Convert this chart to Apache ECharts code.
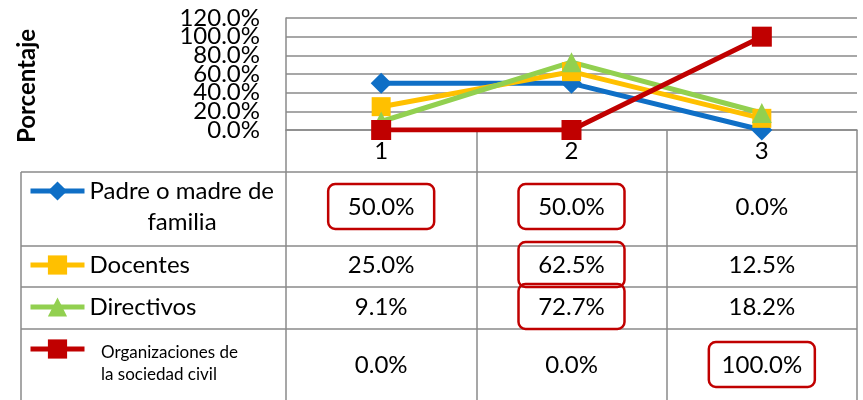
<!DOCTYPE html>
<html>
<head>
<meta charset="utf-8">
<script src="https://cdn.jsdelivr.net/npm/echarts@6/dist/echarts.min.js"></script>
<style>
  html, body { margin: 0; padding: 0; background: #fff; }
  #echarts { width: 863px; height: 400px; }
</style>
</head>
<body>
<div id="echarts"></div>
<script>
// datos
var categories = ["1", "2", "3"];
var seriesNames = ["Padre o madre de familia", "Docentes", "Directivos", "Organizaciones de la sociedad civil"];
var padre = [50.0, 50.0, 0.0];
var docentes = [25.0, 62.5, 12.5];
var directivos = [9.1, 72.7, 18.2];
var organizaciones = [0.0, 0.0, 100.0];
var yTicks = [0, 20, 40, 60, 80, 100, 120];
// celdas marcadas en rojo [columna, fila]
var marked = [[0, 0], [1, 0], [1, 1], [1, 2], [2, 3]];

var allValues = [padre, docentes, directivos, organizaciones];
var colors = ["#0F6FC6", "#FFC000", "#92D050", "#C00000"];
var symbols = ["diamond", "rect", "triangle", "rect"];
var symbolSizes = [21, 19, 20, 20];

var GRAY = "#8a8a8a";
var FONT = "Lato";
var FS = 24;
var ROW_Y = [207, 265, 307, 365];
var LEGEND_Y = [191, 265, 307, 349];

var chartDom = document.getElementById("echarts");
var myChart = echarts.init(chartDom);
var option;

function isMarked(c, r) {
  for (var i = 0; i < marked.length; i++) {
    if (marked[i][0] === c && marked[i][1] === r) return true;
  }
  return false;
}

var tableData = [];
allValues.forEach(function (vals, r) {
  vals.forEach(function (v, c) {
    tableData.push([c, r, v]);
  });
});

var lineSeries = allValues.map(function (vals, i) {
  return {
    name: seriesNames[i],
    type: "line",
    data: vals,
    symbol: symbols[i],
    symbolSize: symbolSizes[i],
    lineStyle: { color: colors[i], width: 5 },
    itemStyle: { color: colors[i] },
    emphasis: { disabled: true },
    animation: false,
  };
});

// leyendas dentro de la tabla
var legendLabels = ["Padre o madre de", "Docentes", "Directivos", ""];
var legends = seriesNames.map(function (name, i) {
  return {
    data: [name],
    left: 28,
    top: LEGEND_Y[i] - 12,
    padding: 0,
    itemWidth: 54,
    itemHeight: 24,
    selectedMode: false,
    lineStyle: { width: 5 },
    formatter: function () { return legendLabels[i]; },
    textStyle: { fontFamily: FONT, fontSize: FS, color: "#000" },
  };
});

function hline(y, x1, x2) {
  return { type: "line", shape: { x1: x1, y1: y, x2: x2, y2: y }, style: { stroke: GRAY, lineWidth: 1.5 } };
}

// las etiquetas del eje y se solapan: se reparten en dos ejes (pares / impares)
function yLabelAxis(parity, main) {
  return {
    type: "value",
    position: "left",
    min: yTicks[0],
    max: yTicks[yTicks.length - 1],
    interval: 20,
    axisLine: { show: main, lineStyle: { color: GRAY, width: 1.5 } },
    axisTick: { show: false },
    axisLabel: {
      fontFamily: FONT, fontSize: FS, color: "#000", margin: 26,
      showMinLabel: true, showMaxLabel: true, hideOverlap: false,
      formatter: function (v) {
        return (v / 20) % 2 === parity ? v.toFixed(1) + "%" : "";
      },
    },
    splitLine: { show: main, showMinLine: true, showMaxLine: true, lineStyle: { color: GRAY, width: 1.5 } },
  };
}

option = {
  animation: false,
  legend: legends,
  grid: { left: 286, right: 6, top: 18, height: 112 },
  xAxis: {
    type: "category",
    data: categories,
    boundaryGap: true,
    axisLine: { lineStyle: { color: GRAY, width: 1.5 } },
    axisTick: { show: true, length: 272, lineStyle: { color: GRAY, width: 1.5 } },
    axisLabel: { fontFamily: FONT, fontSize: FS, color: "#000", margin: 9 },
  },
  yAxis: [yLabelAxis(0, true), yLabelAxis(1, false)],
  graphic: [
    {
      type: "text", x: 27, y: 86, rotation: Math.PI / 2,
      style: { text: "Porcentaje", font: "bold 24px Lato", fill: "#000", align: "center", verticalAlign: "middle" },
    },
    hline(172, 21, 857),
    hline(246, 21, 857),
    hline(287, 21, 857),
    hline(329, 21, 857),
    { type: "line", shape: { x1: 21, y1: 172, x2: 21, y2: 402 }, style: { stroke: GRAY, lineWidth: 1.5 } },
    {
      type: "text", x: 182, y: 222,
      style: { text: "familia", font: FS + "px Lato", fill: "#000", align: "center", verticalAlign: "middle" },
    },
    {
      type: "text", x: 101, y: 364,
      style: { text: "Organizaciones de\nla sociedad civil", font: "17px Lato", lineHeight: 22, fill: "#000", align: "left", verticalAlign: "middle" },
    },
  ],
  series: lineSeries.concat([
    {
      type: "custom",
      data: tableData,
      encode: { x: 0, y: 1 },
      silent: true,
      renderItem: function (params, api) {
        var c = api.value(0), r = api.value(1), v = api.value(2);
        var x = api.coord([c, 0])[0];
        var y = ROW_Y[r];
        var children = [{
          type: "text",
          style: { text: v.toFixed(1) + "%", x: x, y: y, font: FS + "px Lato", fill: "#000", align: "center", verticalAlign: "middle" },
        }];
        if (isMarked(c, r)) {
          children.push({
            type: "rect",
            shape: { x: x - 53, y: y - 23, width: 106, height: 45, r: 7 },
            style: { fill: "none", stroke: "#C00000", lineWidth: 2.5 },
          });
        }
        return { type: "group", children: children };
      },
    },
  ]),
};

option && myChart.setOption(option);
</script>
</body>
</html>
